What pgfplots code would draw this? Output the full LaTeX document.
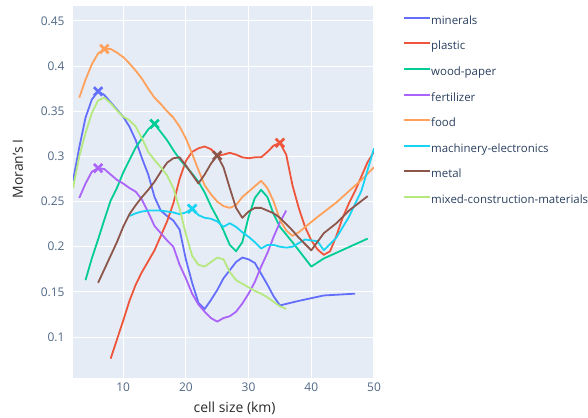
\documentclass[border=0pt]{standalone}
\usepackage{pgfplots}
\pgfplotsset{compat=1.18}
\usepackage{fontspec}
\setmainfont{Open Sans}
\definecolor{bg}{HTML}{E5ECF6}
\definecolor{tickc}{HTML}{506784}
\definecolor{titlec}{HTML}{2A2A2A}
\definecolor{legc}{HTML}{2A3F5F}
\definecolor{cmin}{HTML}{636EFA}
\definecolor{cpla}{HTML}{EF553B}
\definecolor{cwood}{HTML}{00CC96}
\definecolor{cfer}{HTML}{AB63FA}
\definecolor{cfood}{HTML}{FFA15A}
\definecolor{cmach}{HTML}{19D3F3}
\definecolor{cmet}{HTML}{8C564B}
\definecolor{cmix}{HTML}{B6E880}
\pgfplotsset{
  ln/.style={line width=1.8bp, line join=round, no markers},
  pk/.style={forget plot, only marks, mark=x, mark size=6bp, mark options={line width=2.7bp, solid}},
}
\begin{document}
\begin{tikzpicture}
\begin{axis}[
  at={(73bp,40bp)}, anchor=south west,
  scale only axis, width=301bp, height=372bp,
  xmin=2, xmax=50, ymin=0.0546, ymax=0.4666,
  axis background/.style={fill=bg},
  axis line style={draw=none},
  grid=major, major grid style={white, line width=1bp},
  major tick length=0pt,
  xtick={10,20,30,40,50},
  ytick={0.1,0.15,0.2,0.25,0.3,0.35,0.4,0.45},
  yticklabels={0.1,0.15,0.2,0.25,0.3,0.35,0.4,0.45},
  /pgf/number format/assume math mode=true,
  tick label style={font=\fontsize{12}{14}\selectfont, text=tickc},
  yticklabel style={xshift=-5bp},
  xticklabel style={yshift=-1bp},
  every axis x label/.style={at={(axis description cs:0.537,-0.0806)}, anchor=center, font=\fontsize{14}{16}\selectfont, text=titlec},
  every axis y label/.style={at={(axis description cs:-0.183,0.562)}, anchor=center, rotate=90, font=\fontsize{14}{16}\selectfont, text=titlec},
  xlabel={cell size (km)},
  ylabel={Moran's I},
  legend style={at={(axis description cs:1.0864,0.981)}, anchor=north west, draw=none, fill=none,
    font=\fontsize{11.5}{13}\selectfont, text=legc, row sep=13.6bp,
    nodes={inner sep=0pt, text height=9bp, text depth=3bp},
    /tikz/every even column/.append style={column sep=5bp}},
  legend cell align=left,
  legend image code/.code={\draw[#1, line width=2bp] (0bp,3.5bp) -- (26bp,3.5bp);},
]
\addplot[ln, color=cmin] coordinates {(2,0.273)(3,0.31)(4,0.343)(5,0.363)(6,0.372)(7,0.368)(8,0.36)(9,0.352)(10,0.344)(11,0.333)(12,0.318)(13,0.298)(14,0.28)(15,0.255)(16,0.24)(17,0.234)(18,0.229)(19,0.219)(20,0.186)(21,0.16)(22,0.138)(23,0.131)(24,0.141)(25,0.152)(26,0.165)(27,0.174)(28,0.183)(29,0.188)(30,0.186)(31,0.182)(32,0.17)(33,0.158)(34,0.145)(35,0.135)(38,0.14)(42,0.146)(47,0.148)};
\addlegendentry{minerals}
\addplot[ln, color=cpla] coordinates {(8,0.076)(9,0.097)(10,0.118)(11,0.14)(12,0.158)(13,0.172)(14,0.184)(15,0.196)(16,0.212)(17,0.228)(18,0.248)(19,0.275)(20,0.295)(21,0.305)(22,0.309)(23,0.311)(24,0.308)(25,0.301)(26,0.302)(27,0.304)(28,0.302)(29,0.299)(30,0.298)(31,0.299)(32,0.299)(33,0.305)(34,0.312)(35,0.315)(36,0.302)(37,0.268)(38,0.243)(39,0.222)(40,0.207)(41,0.197)(42,0.191)(43,0.195)(44,0.212)(45,0.232)(46,0.248)(47,0.262)(48,0.278)(49,0.294)(50,0.305)};
\addlegendentry{plastic}
\addplot[ln, color=cwood] coordinates {(4,0.163)(5,0.187)(6,0.208)(7,0.23)(8,0.251)(9,0.265)(10,0.282)(11,0.296)(12,0.31)(13,0.32)(14,0.33)(15,0.336)(16,0.327)(17,0.318)(18,0.307)(19,0.297)(20,0.289)(21,0.281)(22,0.272)(23,0.26)(24,0.245)(25,0.232)(26,0.218)(27,0.202)(28,0.195)(29,0.205)(30,0.233)(31,0.254)(32,0.263)(33,0.255)(34,0.236)(35,0.222)(37,0.205)(40,0.178)(42,0.187)(49,0.209)};
\addlegendentry{wood-paper}
\addplot[ln, color=cfer] coordinates {(3,0.254)(4,0.27)(5,0.283)(6,0.287)(7,0.286)(8,0.28)(9,0.274)(10,0.27)(11,0.265)(12,0.261)(13,0.252)(14,0.238)(15,0.223)(16,0.215)(17,0.207)(18,0.2)(19,0.18)(20,0.165)(21,0.148)(22,0.136)(23,0.128)(24,0.121)(25,0.117)(26,0.121)(27,0.123)(28,0.128)(29,0.137)(30,0.148)(31,0.161)(32,0.178)(33,0.193)(34,0.211)(35,0.227)(36,0.24)};
\addlegendentry{fertilizer}
\addplot[ln, color=cfood] coordinates {(3,0.365)(4,0.385)(5,0.402)(6,0.414)(7,0.419)(8,0.419)(9,0.415)(10,0.41)(11,0.403)(12,0.395)(13,0.386)(14,0.375)(15,0.365)(16,0.358)(17,0.35)(18,0.343)(19,0.333)(20,0.32)(21,0.303)(22,0.285)(23,0.268)(24,0.258)(25,0.25)(26,0.245)(27,0.243)(28,0.246)(29,0.255)(30,0.261)(31,0.267)(32,0.273)(33,0.265)(34,0.25)(35,0.23)(36,0.218)(37,0.212)(38,0.216)(41,0.233)(44,0.249)(48,0.274)(50,0.288)};
\addlegendentry{food}
\addplot[ln, color=cmach] coordinates {(11,0.234)(12,0.237)(13,0.239)(14,0.24)(15,0.24)(16,0.24)(17,0.239)(18,0.238)(19,0.236)(20,0.238)(21,0.242)(22,0.235)(23,0.232)(24,0.231)(25,0.228)(26,0.222)(27,0.226)(28,0.222)(29,0.216)(30,0.211)(31,0.205)(32,0.198)(33,0.202)(34,0.202)(35,0.2)(36,0.199)(37,0.2)(39,0.208)(41,0.206)(42,0.196)(44,0.21)(46,0.233)(48,0.262)(50,0.309)};
\addlegendentry{machinery-electronics}
\addplot[ln, color=cmet] coordinates {(6,0.16)(7,0.175)(8,0.19)(9,0.205)(10,0.222)(11,0.236)(12,0.246)(13,0.255)(14,0.263)(15,0.272)(16,0.283)(17,0.293)(18,0.298)(19,0.299)(20,0.29)(21,0.28)(22,0.27)(23,0.28)(24,0.292)(25,0.301)(26,0.288)(27,0.265)(28,0.243)(29,0.232)(30,0.239)(31,0.243)(32,0.243)(33,0.24)(34,0.237)(35,0.232)(36,0.225)(37,0.218)(38,0.21)(40,0.196)(42,0.215)(44,0.226)(46,0.24)(49,0.256)};
\addlegendentry{metal}
\addplot[ln, color=cmix] coordinates {(2,0.265)(3,0.3)(4,0.326)(5,0.348)(6,0.362)(7,0.365)(8,0.359)(9,0.351)(10,0.344)(11,0.34)(12,0.333)(13,0.32)(14,0.305)(15,0.296)(16,0.288)(17,0.279)(18,0.265)(19,0.242)(20,0.214)(21,0.19)(22,0.18)(23,0.178)(24,0.183)(25,0.188)(26,0.186)(27,0.172)(28,0.163)(29,0.159)(30,0.155)(31,0.151)(32,0.148)(33,0.144)(34,0.139)(35,0.134)(36,0.131)};
\addlegendentry{mixed-construction-materials}
\addplot[pk, color=cmin] coordinates {(6,0.372)};
\addplot[pk, color=cpla] coordinates {(35,0.315)};
\addplot[pk, color=cwood] coordinates {(15,0.336)};
\addplot[pk, color=cfer] coordinates {(6,0.287)};
\addplot[pk, color=cfood] coordinates {(7,0.419)};
\addplot[pk, color=cmach] coordinates {(21,0.242)};
\addplot[pk, color=cmet] coordinates {(25,0.301)};
\end{axis}
\pgfresetboundingbox
\path[use as bounding box] (0bp,0bp) rectangle (588bp,418bp);
\end{tikzpicture}
\end{document}
